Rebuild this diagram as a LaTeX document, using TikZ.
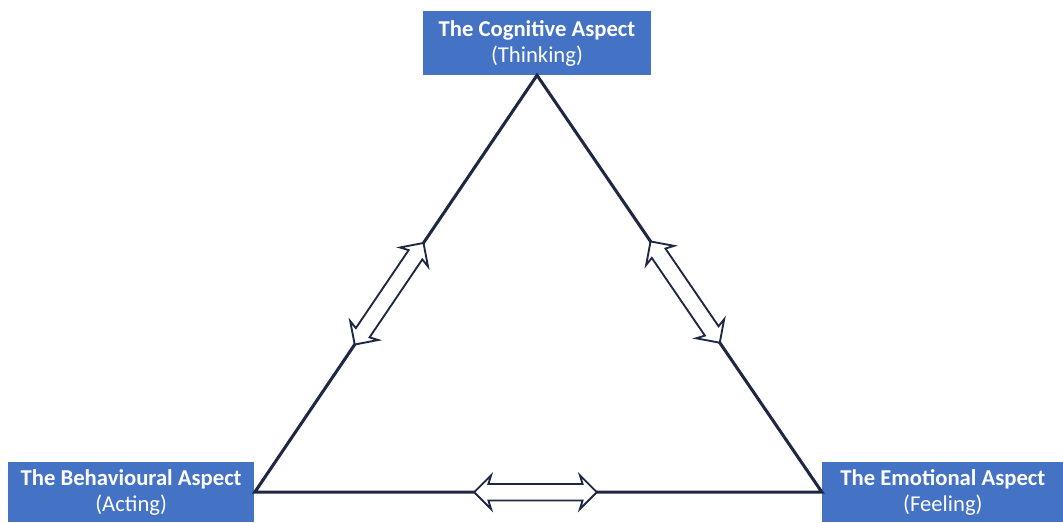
\documentclass[tikz,border=0pt]{standalone}
\usepackage{fontspec}
\setmainfont{Carlito}
\usepackage{xcolor}
\definecolor{aspectblue}{RGB}{68,114,196}
\definecolor{linenavy}{RGB}{30,40,66}
\usepackage{tikz}
\usetikzlibrary{positioning,shapes.arrows}
\tikzset{
  aspect/.style   ={rectangle,fill=aspectblue,text=white,align=center,inner sep=1pt,
                    font=\fontsize{17}{19.5}\selectfont},
  side/.style     ={line width=2.3pt,draw=linenavy,line join=miter},
  twoway/.style   ={double arrow,draw=linenavy,fill=white,line width=1.4pt,
                    inner xsep=0pt,inner ysep=5.5pt,
                    minimum height=92pt,double arrow head extend=6.5pt,
                    double arrow head indent=2pt,sloped},
}

\begin{document}
\begin{tikzpicture}[x=0.75pt,y=-0.75pt]
  \useasboundingbox (0,0) rectangle (1063,522);
  \node[aspect,minimum width=171pt,minimum height=48pt] (cog) at (537,43)
    {\textbf{The Cognitive Aspect}\\(Thinking)};
  \node[aspect,minimum width=185pt,minimum height=45pt,below left=290pt and 126pt of cog.south west] (beh)
    {\textbf{The Behavioural Aspect}\\(Acting)};
  \node[aspect,minimum width=181pt,minimum height=45pt,below right=290pt and 128pt of cog.south east] (emo)
    {\textbf{The Emotional Aspect}\\(Feeling)};
  \draw[side] (cog.south) -- (beh.east) -- (emo.west) -- cycle;
  \path (beh.east) -- node[twoway,pos=0.476] (bc) {} (cog.south);
  \path (cog.south) -- node[twoway,pos=0.52] (ce) {} (emo.west);
  \path (beh.east) -- node[twoway,pos=0.495] (be) {} (emo.west);
\end{tikzpicture}
\end{document}
